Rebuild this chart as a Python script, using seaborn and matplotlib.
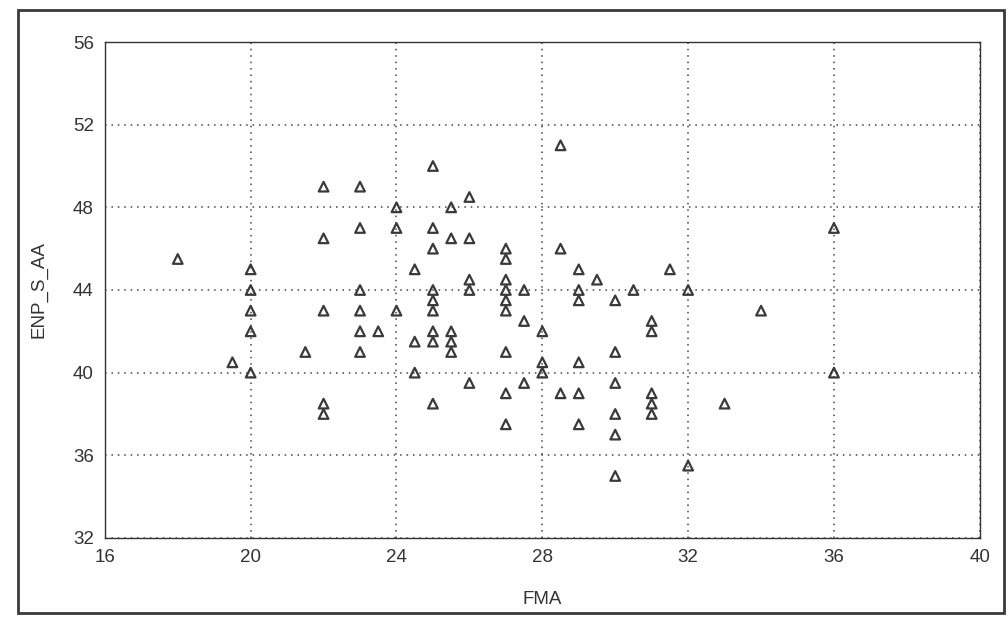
import matplotlib
matplotlib.use("Agg")
import matplotlib.pyplot as plt
import seaborn as sns
import pandas as pd
from matplotlib.patches import Rectangle

# ---- data ----
fma = [18,
       19.5,
       20, 20, 20, 20, 20,
       21.5,
       22, 22, 22, 22, 22,
       23, 23, 23, 23, 23, 23,
       23.5,
       24, 24, 24,
       24.5, 24.5, 24.5,
       25, 25, 25, 25, 25, 25, 25, 25, 25,
       25.5, 25.5, 25.5, 25.5, 25.5,
       26, 26, 26, 26, 26,
       27, 27, 27, 27, 27, 27, 27, 27, 27,
       27.5, 27.5, 27.5,
       28, 28, 28,
       28.5, 28.5, 28.5,
       29, 29, 29, 29, 29, 29,
       29.5,
       30, 30, 30, 30, 30, 30,
       30.5,
       31, 31, 31, 31, 31,
       31.5,
       32, 32,
       33,
       34,
       36, 36]
enp_s_aa = [45.5,
            40.5,
            45.0, 44.0, 43.0, 42.0, 40.0,
            41.0,
            49.0, 46.5, 43.0, 38.5, 38.0,
            49.0, 47.0, 44.0, 43.0, 42.0, 41.0,
            42.0,
            48.0, 47.0, 43.0,
            45.0, 41.5, 40.0,
            50.0, 47.0, 46.0, 44.0, 43.5, 43.0, 42.0, 41.5, 38.5,
            48.0, 46.5, 42.0, 41.5, 41.0,
            48.5, 46.5, 44.5, 44.0, 39.5,
            46.0, 45.5, 44.5, 44.0, 43.5, 43.0, 41.0, 39.0, 37.5,
            44.0, 42.5, 39.5,
            42.0, 40.5, 40.0,
            51.0, 46.0, 39.0,
            45.0, 44.0, 43.5, 40.5, 39.0, 37.5,
            44.5,
            43.5, 41.0, 39.5, 38.0, 37.0, 35.0,
            44.0,
            42.5, 42.0, 39.0, 38.5, 38.0,
            45.0,
            44.0, 35.5,
            38.5,
            43.0,
            47.0, 40.0]
x_ticks = [16, 20, 24, 28, 32, 36, 40]
y_ticks = [32, 36, 40, 44, 48, 52, 56]
x_label = "FMA"
y_label = "ENP_S_AA"

df = pd.DataFrame({x_label: fma, y_label: enp_s_aa})

sns.set_theme(style="white")
plt.rcParams["font.family"] = ["Liberation Sans", "DejaVu Sans"]

fig = plt.figure(figsize=(10.08, 6.27), dpi=100)
ax = fig.add_axes([0.104, 0.142, 0.868, 0.791])

sns.scatterplot(data=df, x=x_label, y=y_label, ax=ax, marker="^",
                s=48, facecolor="none", edgecolor="#3a3a3a", linewidth=1.6)

ax.set_xlim(16, 40)
ax.set_ylim(32, 56)
ax.set_xticks(x_ticks)
ax.set_yticks(y_ticks)
ax.set_xticklabels([str(t) for t in x_ticks])
ax.set_yticklabels([str(t) for t in y_ticks])
ax.tick_params(axis="both", length=0, labelsize=13.5, colors="#333333", pad=8)
ax.grid(True, color="#444444", linestyle=(0, (1, 3.2)), linewidth=1.1)
for s in ax.spines.values():
    s.set_visible(True)
    s.set_color("#333333")
    s.set_linewidth(1.0)
ax.set_xlabel(x_label, fontsize=13.5, color="#333333", labelpad=18)
ax.set_ylabel(y_label, fontsize=13.5, color="#333333", labelpad=18)

# outer frame around the whole figure
fig.patches.append(Rectangle((0.018, 0.022), 0.978, 0.962, transform=fig.transFigure,
                             fill=False, edgecolor="#3a3a3a", linewidth=2.0))

fig.savefig("out.png", dpi=100, facecolor="white")
